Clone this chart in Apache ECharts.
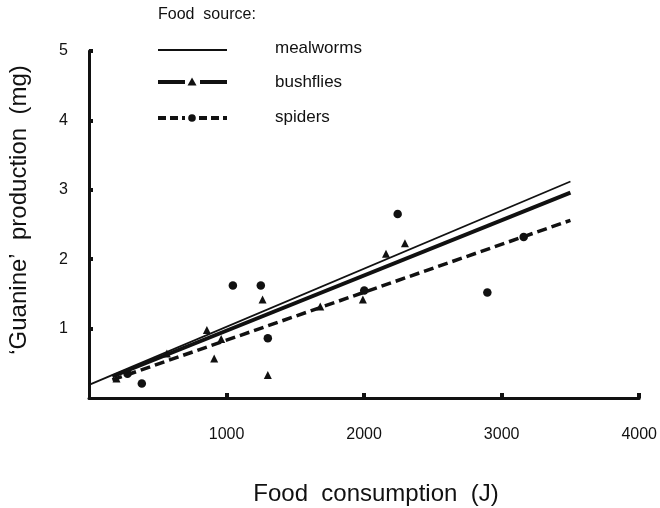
<!DOCTYPE html>
<html>
<head>
<meta charset="utf-8">
<script src="https://cdn.jsdelivr.net/npm/echarts@6/dist/echarts.min.js"></script>
<style>
  html, body { margin: 0; padding: 0; background: #fff; }
  #chart { width: 660px; height: 508px; }
</style>
</head>
<body>
<div id="chart"></div>
<script>
// Food consumption (J) vs guanine production (mg)
var xTicks = [0, 1000, 2000, 3000, 4000];
var yTicks = [0, 1, 2, 3, 4, 5];

// bushflies observations [J, mg]
var bushfliesPoints = [
  [200, 0.28], [566, 0.64], [857, 0.98], [910, 0.57], [961, 0.85],
  [1262, 1.42], [1300, 0.33], [1681, 1.32], [1991, 1.42],
  [2159, 2.08], [2297, 2.23]
];
// spiders observations [J, mg]
var spidersPoints = [
  [280, 0.35], [384, 0.21], [1046, 1.62], [1249, 1.62], [1300, 0.86],
  [2001, 1.55], [2244, 2.65], [2896, 1.52], [3160, 2.32]
];
// fitted regression lines, endpoints [J, mg]
var mealwormsFit = [[0, 0.19], [3500, 3.12]];
var bushfliesFit = [[170, 0.31], [3500, 2.96]];
var spidersFit = [[170, 0.26], [3500, 2.56]];

var legendTitle = 'Food  source:';
var legendNames = ['mealworms', 'bushflies', 'spiders'];
var xTitle = 'Food  consumption  (J)';
var yTitle = '\u2018Guanine\u2019  production  (mg)';

var FONT = '"Liberation Sans", Arial, Helvetica, sans-serif';
var INK = '#111';

var chart = echarts.init(document.getElementById('chart'));

var tickLabel = {
  color: INK, fontFamily: FONT, fontSize: 16,
  formatter: function (v) { return String(v); }
};

chart.setOption({
  backgroundColor: '#fff',
  animation: false,
  grid: { left: 89, right: 20, top: 51, bottom: 110 },
  xAxis: {
    type: 'value',
    min: xTicks[0], max: xTicks[xTicks.length - 1], interval: 1000,
    splitLine: { show: false },
    axisLine: { lineStyle: { color: INK, width: 3 } },
    axisTick: { inside: true, length: 5, lineStyle: { color: INK, width: 4 } },
    axisLabel: Object.assign({ margin: 29, showMinLabel: false }, tickLabel)
  },
  yAxis: {
    type: 'value',
    min: yTicks[0], max: yTicks[yTicks.length - 1], interval: 1,
    splitLine: { show: false },
    axisLine: { lineStyle: { color: INK, width: 3 } },
    axisTick: { inside: true, length: 4, lineStyle: { color: INK, width: 4 } },
    axisLabel: Object.assign({ margin: 21, showMinLabel: false }, tickLabel)
  },
  series: [
    {
      name: 'mealworms fit', type: 'line', data: mealwormsFit,
      symbol: 'none', silent: true,
      lineStyle: { color: INK, width: 1.8 }
    },
    {
      name: 'bushflies fit', type: 'line', data: bushfliesFit,
      symbol: 'none', silent: true,
      lineStyle: { color: INK, width: 4 }
    },
    {
      name: 'spiders fit', type: 'line', data: spidersFit,
      symbol: 'none', silent: true,
      lineStyle: { color: INK, width: 3.5, type: [10, 5] }
    },
    {
      name: 'bushflies', type: 'scatter', data: bushfliesPoints,
      symbol: 'triangle', symbolSize: 8,
      itemStyle: { color: INK, opacity: 1 }
    },
    {
      name: 'spiders', type: 'scatter', data: spidersPoints,
      symbol: 'circle', symbolSize: 8.5,
      itemStyle: { color: INK, opacity: 1 }
    }
  ],
  graphic: [
    // legend block
    { type: 'text', left: 158, top: 7,
      style: { text: legendTitle, font: '16px ' + FONT, fill: INK } },
    { type: 'line', shape: { x1: 158, y1: 50, x2: 227, y2: 50 },
      style: { stroke: INK, lineWidth: 1.8 } },
    { type: 'line', shape: { x1: 158, y1: 82, x2: 185, y2: 82 },
      style: { stroke: INK, lineWidth: 4 } },
    { type: 'polygon', shape: { points: [[192, 77.5], [196.5, 85.5], [187.5, 85.5]] },
      style: { fill: INK } },
    { type: 'line', shape: { x1: 200, y1: 82, x2: 227, y2: 82 },
      style: { stroke: INK, lineWidth: 4 } },
    { type: 'line', shape: { x1: 158, y1: 118, x2: 185, y2: 118 },
      style: { stroke: INK, lineWidth: 4, lineDash: [8, 4] } },
    { type: 'circle', shape: { cx: 192, cy: 118, r: 3.8 },
      style: { fill: INK } },
    { type: 'line', shape: { x1: 199, y1: 118, x2: 227, y2: 118 },
      style: { stroke: INK, lineWidth: 4, lineDash: [8, 4] } },
    { type: 'text', x: 275, y: 48,
      style: { text: legendNames[0], font: '17px ' + FONT, fill: INK, verticalAlign: 'middle' } },
    { type: 'text', x: 275, y: 82,
      style: { text: legendNames[1], font: '17px ' + FONT, fill: INK, verticalAlign: 'middle' } },
    { type: 'text', x: 275, y: 117,
      style: { text: legendNames[2], font: '17px ' + FONT, fill: INK, verticalAlign: 'middle' } },
    // axis titles
    { type: 'text', x: 376, y: 494,
      style: { text: xTitle, font: '24px ' + FONT, fill: INK, align: 'center', verticalAlign: 'middle' } },
    { type: 'text', x: 19, y: 210, rotation: Math.PI / 2,
      style: { text: yTitle, font: '24px ' + FONT, fill: INK, align: 'center', verticalAlign: 'middle' } }
  ]
});
</script>
</body>
</html>
